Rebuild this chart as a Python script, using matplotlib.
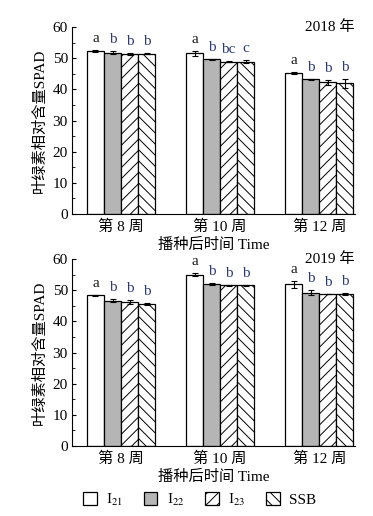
import matplotlib
matplotlib.use('Agg')
import matplotlib.pyplot as plt
import numpy as np

plt.rcParams['font.family'] = ['Liberation Serif', 'Noto Sans CJK SC']
plt.rcParams['mathtext.fontset'] = 'stix'
plt.rcParams['hatch.linewidth'] = 0.7
plt.rcParams['font.size'] = 10

weeks = ['第 8 周', '第 10 周', '第 12 周']
treatments = [r'I$_{21}$', r'I$_{22}$', r'I$_{23}$', 'SSB']

# 2018
spad_2018 = [[52.3, 51.5, 45.3],
             [51.8, 49.6, 43.2],
             [51.4, 48.9, 42.2],
             [51.4, 48.9, 41.9]]
err_2018 = [[0.2, 0.7, 0.3],
            [0.5, 0.2, 0.2],
            [0.3, 0.1, 0.9],
            [0.2, 0.5, 1.5]]
sig_2018 = [['a', 'a', 'a'],
            ['b', 'b', 'b'],
            ['b', 'bc', 'b'],
            ['b', 'c', 'b']]

# 2019
spad_2019 = [[48.3, 55.0, 51.9],
             [46.6, 51.9, 49.2],
             [46.2, 51.5, 48.7],
             [45.7, 51.5, 48.7]]
err_2019 = [[0.2, 0.4, 1.2],
            [0.5, 0.3, 0.8],
            [0.5, 0.3, 0.0],
            [0.3, 0.3, 0.4]]
sig_2019 = [['a', 'a', 'a'],
            ['b', 'b', 'b'],
            ['b', 'b', 'b'],
            ['b', 'b', 'b']]

colors = ['white', '#b5b5b5', 'white', 'white']
hatches = ['', '', '///', '\\\\\\']
letter_colors = ['#1a1a1a', '#2b3a78', '#2b3a78', '#2b3a78']

fig = plt.figure(figsize=(3.73, 5.16), dpi=100)
ax1 = fig.add_axes([72 / 373, 1 - 214 / 516, 283 / 373, 187 / 516])
ax2 = fig.add_axes([72 / 373, 1 - 446 / 516, 283 / 373, 187 / 516])

x = np.arange(len(weeks))
w = 0.172


def draw(ax, vals, errs, sigs, year):
    bars = []
    for i in range(4):
        pos = x + (i - 1.5) * w
        b = ax.bar(pos, vals[i], w, color=colors[i], edgecolor='black',
                   linewidth=0.9, hatch=hatches[i], label=treatments[i])
        bars.append(b)
        ax.errorbar(pos, vals[i], yerr=errs[i], fmt='none', ecolor='black',
                    elinewidth=0.8, capsize=2, capthick=0.8)
        for j in range(len(weeks)):
            ax.text(pos[j], vals[i][j] + errs[i][j] + 1.6, sigs[i][j],
                    ha='center', va='bottom', fontsize=11,
                    color=letter_colors[i])
    ax.set_xlim(-0.495, 2.36)
    ax.set_ylim(0, 60)
    ax.set_yticks([0, 10, 20, 30, 40, 50, 60])
    ax.set_yticks(np.arange(5, 60, 10), minor=True)
    ax.set_xticks(x)
    ax.set_xticklabels(weeks, fontsize=11)
    ax.tick_params(axis='x', length=0, pad=4)
    ax.tick_params(axis='y', direction='in', length=3, width=0.8, labelsize=11, pad=3)
    ax.tick_params(axis='y', which='minor', direction='in', length=2, width=0.6)
    ax.spines['top'].set_visible(False)
    ax.spines['right'].set_visible(False)
    ax.spines['left'].set_linewidth(0.8)
    ax.spines['bottom'].set_linewidth(0.8)
    ax.set_ylabel('叶绿素相对含量SPAD', fontsize=11, labelpad=4)
    ax.set_xlabel('播种后时间 Time', fontsize=11, labelpad=3)
    ax.text(1.0, 1.0, year, transform=ax.transAxes, ha='right', va='center',
            fontsize=11)
    return bars


bars = draw(ax1, spad_2018, err_2018, sig_2018, '2018 年')
draw(ax2, spad_2019, err_2019, sig_2019, '2019 年')

fig.legend(handles=bars, labels=treatments, loc='center',
           bbox_to_anchor=(0.535, 1 - 500 / 516), ncol=4, frameon=False,
           handlelength=0.9, handleheight=0.9, columnspacing=1.35,
           handletextpad=0.6, fontsize=11)

fig.savefig('out.png', dpi=100)
